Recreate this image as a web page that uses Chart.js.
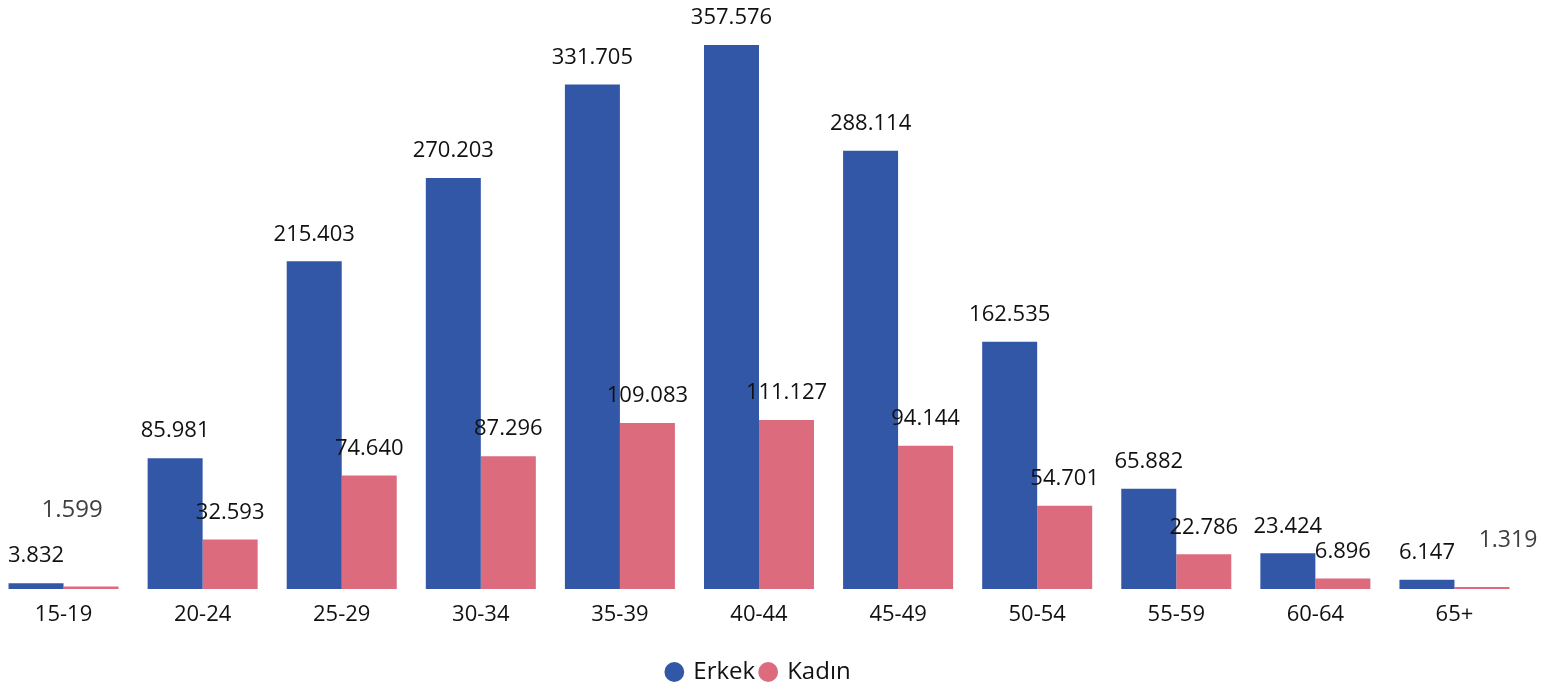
<!DOCTYPE html>
<html>
<head>
<meta charset="utf-8">
<script src="https://cdn.jsdelivr.net/npm/chart.js@4"></script>
<style>
  body { margin: 0; background: #fff; overflow: hidden; }
  #wrap { position: absolute; left: -6px; top: 0; width: 1580px; height: 688px; }
</style>
</head>
<body>
<div id="wrap"><canvas id="chart"></canvas></div>
<script>
const ageGroups = ["15-19", "20-24", "25-29", "30-34", "35-39", "40-44", "45-49", "50-54", "55-59", "60-64", "65+"];
const erkek = [3832, 85981, 215403, 270203, 331705, 357576, 288114, 162535, 65882, 23424, 6147];
const kadin = [1599, 32593, 74640, 87296, 109083, 111127, 94144, 54701, 22786, 6896, 1319];

const FONT = "'Open Sans', 'Noto Sans', sans-serif";

// a couple of labels sit away from their bar in the original
const labelTweaks = {
  "1-0": { dx: -19, dy: -49, color: "#404040", size: 24 },
  "1-10": { dx: 26, dy: -20, color: "#404040", size: 23 }
};

function fmt(v) {
  return v.toLocaleString("de-DE");
}

const valueLabels = {
  id: "valueLabels",
  afterDatasetsDraw(chart) {
    const ctx = chart.ctx;
    ctx.save();
    ctx.textAlign = "center";
    ctx.textBaseline = "middle";
    chart.data.datasets.forEach((ds, di) => {
      const meta = chart.getDatasetMeta(di);
      meta.data.forEach((bar, i) => {
        const t = labelTweaks[di + "-" + i] || { dx: 0, dy: 0, color: "#111", size: 22 };
        ctx.font = t.size + "px " + FONT;
        ctx.fillStyle = t.color;
        ctx.fillText(fmt(ds.data[i]), bar.x + t.dx, bar.y - 27 + t.dy);
      });
    });
    ctx.restore();
  }
};

new Chart(document.getElementById("chart"), {
  type: "bar",
  data: {
    labels: ageGroups,
    datasets: [
      { label: "Erkek", data: erkek, backgroundColor: "#3357a7" },
      { label: "Kadın", data: kadin, backgroundColor: "#dc6b7e" }
    ]
  },
  options: {
    responsive: true,
    maintainAspectRatio: false,
    animation: false,
    categoryPercentage: 0.791,
    barPercentage: 1,
    layout: { padding: { top: 0, left: 0, right: 50, bottom: -6 } },
    plugins: {
      tooltip: { enabled: false },
      legend: {
        position: "bottom",
        labels: {
          usePointStyle: true,
          pointStyle: "circle",
          boxWidth: 14,
          boxHeight: 14,
          padding: 6,
          color: "#111",
          font: { family: FONT, size: 24 }
        }
      }
    },
    scales: {
      x: {
        grid: { display: false, drawTicks: false },
        border: { display: false },
        ticks: { color: "#111", font: { family: FONT, size: 22 }, padding: 13 },
        afterFit(scale) { scale.height = 65; }
      },
      y: {
        display: false,
        min: 0,
        max: 387200
      }
    }
  },
  plugins: [valueLabels]
});
</script>
</body>
</html>
